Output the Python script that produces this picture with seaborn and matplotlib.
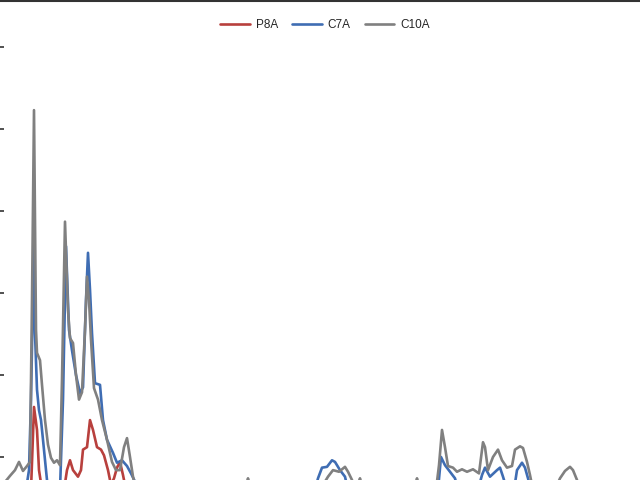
import numpy as np
import pandas as pd
import matplotlib
matplotlib.use("Agg")
import matplotlib.pyplot as plt
import seaborn as sns

# P8A (red)
p8a_x = [31, 34, 37, 39, 42,
         64, 67, 70, 73, 78, 81, 83, 87, 90, 93, 97, 101, 104, 108, 111, 114, 117, 120, 123, 126]
p8a_y = [6.0, 16.1, 13.3, 8.4, 6.0,
         6.0, 8.4, 9.6, 8.4, 7.6, 8.4, 10.9, 11.2, 14.5, 13.3, 11.2, 10.9, 10.2, 8.4, 6.6, 7.4, 8.7, 9.4, 7.8, 6.0]

# C7A (blue)
c7a_x = [26, 29, 31, 34, 35, 37, 39, 41, 43, 46, 48,
         60, 63, 66, 69, 72, 76, 80, 83, 86, 88, 90, 92, 95, 100, 103, 107, 113, 117, 122, 127, 131, 135, 138,
         315, 318, 322, 327, 332, 335, 340, 345, 348,
         438, 441, 445, 450, 455, 458,
         478, 482, 485, 490, 497, 500, 503, 507,
         514, 517, 522, 525, 528, 531]
c7a_y = [6.0, 8.4, 17.0, 36.5, 25.1, 18.2, 15.7, 14.5, 12.1, 8.4, 6.0,
         6.0, 17.0, 35.7, 25.5, 23.0, 20.0, 17.8, 18.5, 29.1, 34.9, 30.4, 25.1, 19.0, 18.8, 14.5, 12.1, 10.5, 9.3, 9.6, 8.9, 8.0, 7.0, 6.0,
         6.0, 7.4, 8.7, 8.8, 9.6, 9.4, 8.4, 7.6, 6.0,
         6.0, 10.0, 9.0, 8.2, 7.4, 6.0,
         6.0, 7.8, 8.7, 7.6, 8.4, 8.7, 7.6, 6.0,
         6.0, 8.4, 9.3, 8.7, 7.4, 6.0]

# C10A (grey)
c10a_x = [5, 10, 15, 19, 23, 27, 30, 32, 34, 36, 37, 40, 42, 45, 48, 51, 54, 57, 60, 62,
          65, 68, 70, 73, 76, 79, 82, 85, 87, 89, 91, 94, 98, 102, 107, 112, 116, 120, 124, 127, 130, 133, 136,
          245, 248, 251,
          320, 328, 333, 339, 345, 348, 352, 356, 360, 363,
          414, 417, 420,
          436, 439, 442, 445, 448, 453, 457, 462, 467, 473, 479, 483, 485, 488, 493, 498, 502, 507, 512,
          515, 520, 523, 527, 530, 533,
          555, 560, 565, 570, 573, 577, 580]
c10a_y = [6.95, 7.7, 8.4, 9.4, 8.3, 8.9, 9.4, 29.1, 52.3, 25.5, 22.7, 21.8, 18.8, 14.5, 11.5, 9.9, 9.3, 9.6, 9.0, 19.4,
          38.7, 27.9, 24.5, 23.9, 20.0, 17.0, 17.9, 25.5, 32.0, 29.1, 24.3, 18.4, 17.0, 14.5, 12.1, 9.4, 8.4, 8.4, 11.2, 12.3, 10.0, 7.6, 6.0,
          6.0, 7.4, 6.0,
          6.0, 7.6, 8.4, 8.2, 8.8, 8.2, 7.2, 6.0, 7.4, 6.0,
          6.0, 7.4, 6.0,
          6.0, 9.0, 13.3, 11.2, 8.9, 8.7, 8.2, 8.5, 8.2, 8.5, 8.0, 11.8, 11.2, 8.4, 10.0, 10.9, 9.6, 8.7, 8.9,
          10.9, 11.3, 11.1, 9.4, 7.8, 6.0,
          6.0, 7.4, 8.3, 8.8, 8.4, 7.2, 6.0]

y_ticks = [10, 20, 30, 40, 50, 60]
colors = {"P8A": "#B8403D", "C7A": "#3F6DB3", "C10A": "#808080"}

df = pd.concat([
    pd.DataFrame({"x": p8a_x, "value": p8a_y, "series": "P8A"}),
    pd.DataFrame({"x": c7a_x, "value": c7a_y, "series": "C7A"}),
    pd.DataFrame({"x": c10a_x, "value": c10a_y, "series": "C10A"}),
])

sns.set_style("white")
plt.rcParams['font.family'] = ['Liberation Sans', 'DejaVu Sans']

fig = plt.figure(figsize=(6.4, 4.8), dpi=100)
ax = fig.add_axes([0, 0, 1, 479 / 480])

sns.lineplot(data=df, x="x", y="value", hue="series", hue_order=["P8A", "C7A", "C10A"],
             palette=colors, estimator=None, sort=True, linewidth=1.9, ax=ax)

ax.set_xlim(0, 640)
ax.set_ylim(7.195, 65.61)
ax.set_yticks(y_ticks)
ax.set_xticks([])
ax.tick_params(axis='y', left=True, direction='in', length=3, width=1.1,
               color='#222222', labelleft=False)
ax.set_xlabel('')
ax.set_ylabel('')

for s in ['left', 'right', 'bottom']:
    ax.spines[s].set_visible(False)
ax.spines['top'].set_color('#333333')
ax.spines['top'].set_linewidth(1.5)

ax.legend(loc='upper center', bbox_to_anchor=(0.508, 0.985), ncol=3, frameon=False,
          fontsize=8.5, handlelength=2.5, handletextpad=0.5, columnspacing=1.2)

fig.savefig('out.png', dpi=100)
